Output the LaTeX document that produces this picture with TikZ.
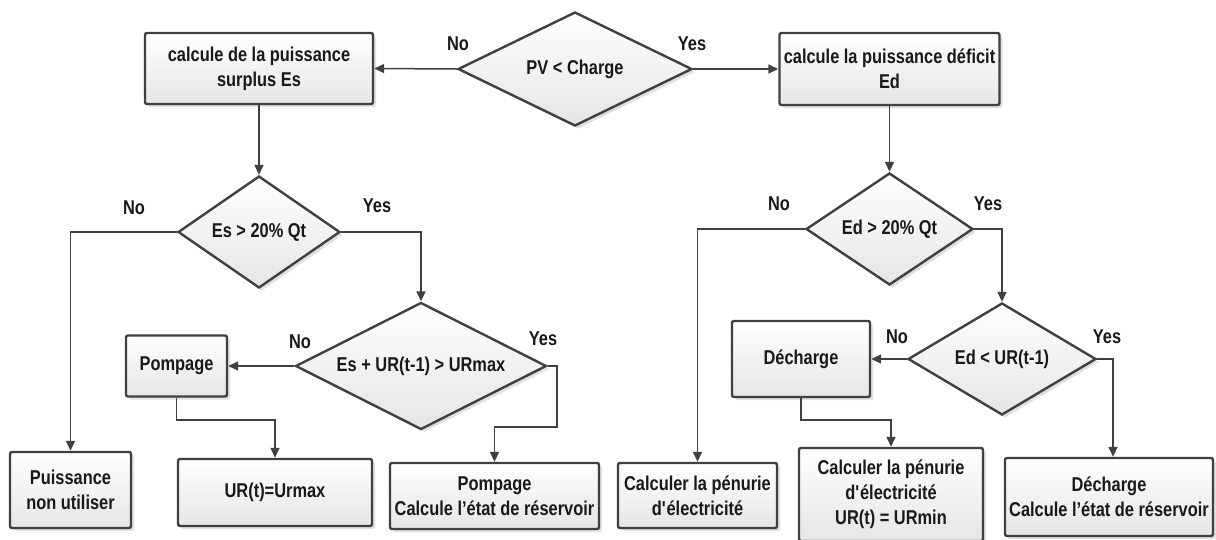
\documentclass[tikz,border=0pt]{standalone}
\usepackage{fontspec}
\setmainfont{Liberation Sans}[FakeStretch=0.82]
\usetikzlibrary{arrows.meta,shapes.geometric,shadows}

\begin{document}
\begin{tikzpicture}[x=1pt,y=-1pt,
  font=\fontsize{20}{25}\selectfont\bfseries,
  base/.style={draw=black!75, line width=2.4pt, top color=white, bottom color=black!10,
    drop shadow={shadow xshift=3pt, shadow yshift=-3pt, fill=black!20, opacity=0.6},
    inner sep=0pt, align=center, text=black!90},
  box/.style 2 args={base, rectangle, rounded corners=2pt, minimum width=#1, minimum height=#2},
  test/.style 2 args={base, diamond, aspect=2, minimum width=#1, minimum height=#2},
  conn/.style={draw=black!75, line width=1.5pt},
  arr/.style={conn, -{Triangle[length=10pt,width=9pt]}},
  lbl/.style={text=black!90, inner sep=0pt}]

\useasboundingbox (0,0) rectangle (1216,539);

% decision nodes
\node[test={234pt}{114pt}] (d1) at (575,69) {PV < Charge};
\node[test={162pt}{112pt}] (d2) at (259,232) {Es > 20\% Qt};
\node[test={167pt}{112pt}] (d5) at (889.5,229) {Ed > 20\% Qt};
\node[test={251pt}{127pt}] (d3) at (421,366) {Es + UR(t-1) > URmax};
\node[test={188pt}{112pt}] (d4) at (1002,359) {Ed < UR(t-1)};

% process boxes
\node[box={228pt}{71pt}] (b1) at (259,68.5) {calcule de la puissance\\surplus Es};
\node[box={220pt}{72pt}] (b2) at (889.5,69) {calcule la puissance déficit\\Ed};
\node[box={101pt}{61pt}] (b3) at (176.5,366) {Pompage};
\node[box={121pt}{76pt}] (b4) at (70.5,490) {Puissance\\non utiliser};
\node[box={194pt}{67pt}] (b5) at (275,492.5) {UR(t)=Urmax};
\node[box={209pt}{66pt}] (b6) at (494.5,496) {Pompage\\Calcule l’état de réservoir};
\node[box={159pt}{65pt}] (b7) at (697.5,495.5) {Calculer la pénurie\\d\textquotesingle électricité};
\node[box={138pt}{76pt}] (b8) at (801,359) {Décharge};
\node[box={184pt}{93pt}] (b9) at (891,494.5) {Calculer la pénurie\\d\textquotesingle électricité\\UR(t) = URmin};
\node[box={208pt}{78pt}] (b10) at (1109,497) {Décharge\\Calcule l’état de réservoir};

% bend points
\coordinate (j1) at (176.5,420);
\coordinate (j2) at (557,427);
\coordinate (j3) at (801,420);
\coordinate (j4) at (1113,359);

% connectors
\draw[arr] (d1.west) -- (b1.east);
\draw[arr] (d1.east) -- (b2.west);
\draw[arr] (b1.south) -- (d2.north);
\draw[arr] (b2.south) -- (d5.north);
\draw[arr] (d2.west) -| (b4.north);
\draw[arr] (d2.east) -| (d3.north);
\draw[arr] (d3.west) -- (b3.east);
\draw[arr] (b3.south) -- (j1) -| (b5.north);
\draw[arr] (d3.east) -| (j2) -| (b6.north);
\draw[arr] (d5.west) -| (b7.north);
\draw[arr] (d5.east) -| (d4.north);
\draw[arr] (d4.west) -- (b8.east);
\draw[arr] (b8.south) -- (j3) -| (b9.north);
\draw[arr] (d4.east) -- (j4) -- (j4 |- b10.north);

% branch labels
\node[lbl] (n1) at (458,44) {No};
\node[lbl] (y1) at (692,44) {Yes};
\node[lbl] (n2) at (134,208) {No};
\node[lbl] (y2) at (377,206) {Yes};
\node[lbl] (n5) at (779,204) {No};
\node[lbl] (y5) at (988,204) {Yes};
\node[lbl] (n3) at (300,342) {No};
\node[lbl] (y3) at (543,339) {Yes};
\node[lbl] (n4) at (897,337) {No};
\node[lbl] (y4) at (1107,337) {Yes};
\end{tikzpicture}
\end{document}
